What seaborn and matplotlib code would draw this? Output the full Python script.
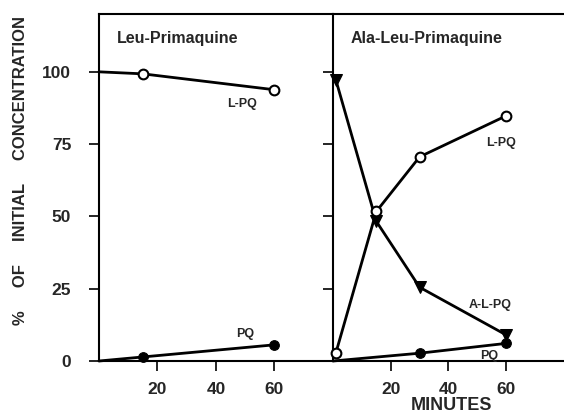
import matplotlib
matplotlib.use("Agg")
import matplotlib.pyplot as plt
import seaborn as sns
import pandas as pd

sns.set_theme(style="white")
plt.rcParams['font.family'] = ['Liberation Sans', 'DejaVu Sans']

# Leu-Primaquine panel
leu_lpq_min = [0, 15, 60]
leu_lpq_val = [100, 99.3, 93.8]
leu_pq_min = [0, 15, 60]
leu_pq_val = [0, 1.4, 5.6]

# Ala-Leu-Primaquine panel
ala_lpq_min = [1, 15, 30, 60]
ala_lpq_val = [2.8, 51.7, 70.6, 84.8]
ala_alpq_min = [1, 15, 30, 60]
ala_alpq_val = [97.2, 48.3, 25.5, 9.0]
ala_pq_min = [0, 30, 60]
ala_pq_val = [0, 2.7, 6.1]

xticks = [20, 40, 60]
yticks = [0, 25, 50, 75, 100]
panel_titles = ["Leu-Primaquine", "Ala-Leu-Primaquine"]

fig = plt.figure(figsize=(5.64, 4.15), dpi=100)
axL = fig.add_axes([0.1755, 0.1301, 0.4149, 0.8362])
axR = fig.add_axes([0.5904, 0.1301, 0.4096, 0.8362])

lw = 2.0
kw_open = dict(marker='o', markersize=7, markerfacecolor='white',
               markeredgecolor='black', markeredgewidth=1.5, color='black', linewidth=lw)
kw_fill = dict(marker='o', markersize=7, markerfacecolor='black',
               markeredgecolor='black', color='black', linewidth=lw)
kw_tri = dict(marker='v', markersize=8.5, markerfacecolor='black',
              markeredgecolor='black', color='black', linewidth=lw)

def line(ax, xs, ys, kw, markevery=None):
    df = pd.DataFrame({"x": xs, "y": ys})
    extra = dict(kw)
    if markevery is not None:
        extra['markevery'] = markevery
    sns.lineplot(data=df, x="x", y="y", ax=ax, estimator=None, sort=False,
                 clip_on=False, zorder=3, **extra)

line(axL, leu_lpq_min, leu_lpq_val, kw_open, markevery=[1, 2])
line(axL, leu_pq_min, leu_pq_val, kw_fill, markevery=[1, 2])
line(axR, ala_alpq_min, ala_alpq_val, kw_tri)
line(axR, ala_lpq_min, ala_lpq_val, kw_open)
line(axR, ala_pq_min, ala_pq_val, kw_fill, markevery=[1, 2])

tfont = dict(fontsize=9, fontweight='bold')
axL.text(49, 89, "L-PQ", ha='center', va='center', **tfont)
axL.text(50, 9.4, "PQ", ha='center', va='center', **tfont)
axR.text(58.3, 75.5, "L-PQ", ha='center', va='center', **tfont)
axR.text(54.5, 19.3, "A-L-PQ", ha='center', va='center', **tfont)
axR.text(54, 1.7, "PQ", ha='center', va='center', **tfont)

for ax, title in zip([axL, axR], panel_titles):
    ax.set_xlim(0, 80)
    ax.set_ylim(0, 120)
    ax.set_xticks(xticks)
    ax.set_yticks(yticks)
    ax.set_xlabel("")
    ax.set_ylabel("")
    ax.tick_params(axis='both', direction='out', length=7, width=1.2,
                   color='black', labelsize=12.5, bottom=True, left=True)
    for lab in ax.get_xticklabels() + ax.get_yticklabels():
        lab.set_fontweight('bold')
    for s in ax.spines.values():
        s.set_color('black')
        s.set_linewidth(1.5)
    ax.spines['right'].set_visible(False)
    ax.text(0.075, 0.93, title, transform=ax.transAxes, ha='left', va='center',
            fontsize=11.5, fontweight='bold')
    ax.tick_params(axis='x', pad=8)
    ax.tick_params(axis='y', pad=13)
    ax.set_facecolor('white')

axR.tick_params(axis='y', labelleft=False)

fig.text(0.036, 0.59, "%     OF     INITIAL     CONCENTRATION", rotation=90,
         ha='center', va='center', fontsize=12, fontweight='bold')
fig.text(452 / 564, 1 - 405 / 415, "MINUTES", ha='center', va='center',
         fontsize=13, fontweight='bold')

fig.savefig("out.png", dpi=100, facecolor='white')
